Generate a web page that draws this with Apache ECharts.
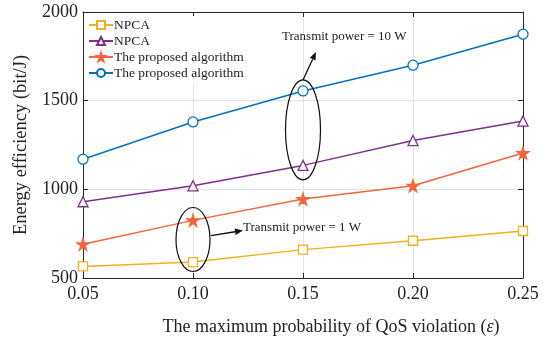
<!DOCTYPE html>
<html>
<head>
<meta charset="utf-8">
<script src="https://cdn.jsdelivr.net/npm/echarts@6/dist/echarts.min.js"></script>
<style>
  html, body { margin: 0; padding: 0; background: #fff; }
  #chart { width: 549px; height: 343px; }
</style>
</head>
<body>
<div id="chart"></div>
<script>
// QoS violation probability (x axis)
var epsilons = ['0.05', '0.10', '0.15', '0.20', '0.25'];
// energy efficiency (bit/J)
var npca1W = [565, 590, 660, 710, 765];
var npca10W = [930, 1020, 1135, 1275, 1385];
var proposed1W = [690, 825, 945, 1020, 1205];
var proposed10W = [1170, 1380, 1555, 1700, 1875];
var yTicks = [500, 1000, 1500, 2000];

var serif = 'Liberation Serif';
var starPath = 'path://M50,0 L61,35 L98,35 L68,57 L79,91 L50,70 L21,91 L32,57 L2,35 L39,35 Z';

var chart = echarts.init(document.getElementById('chart'));

function mkSeries(name, data, color, symbol, size) {
  return {
    name: name,
    type: 'line',
    data: data,
    symbol: symbol,
    symbolSize: size,
    showAllSymbol: true,
    lineStyle: { color: color, width: 1.5 },
    itemStyle: { color: symbol.indexOf('path') === 0 ? color : '#fff', borderColor: color, borderWidth: 1.3 },
    emphasis: { disabled: true },
    z: 3
  };
}

var axisCol = '#262626';
var option = {
  animation: false,
  backgroundColor: '#fff',
  textStyle: { fontFamily: serif },
  grid: { left: 83, right: 26, top: 12, bottom: 65 },
  legend: {
    orient: 'vertical',
    left: 86,
    top: 16,
    itemWidth: 24,
    itemHeight: 10,
    itemGap: 2,
    padding: [2, 4, 4, 2],
    backgroundColor: '#fff',
    textStyle: { fontFamily: serif, fontSize: 13.5, color: '#222', padding: [0, 0, 0, -4] },
    data: ['NPCA', 'NPCA\u200b', 'The proposed algorithm', 'The proposed algorithm\u200b']
  },
  xAxis: [{
    type: 'category',
    data: epsilons,
    boundaryGap: false,
    name: 'The maximum probability of QoS violation ({e|\u03b5})',
    nameLocation: 'middle',
    nameGap: 40,
    nameTextStyle: { fontFamily: serif, fontSize: 18, color: '#222', padding: [0, 0, 0, 56],
      rich: { e: { fontFamily: serif, fontSize: 18, fontStyle: 'italic', color: '#222' } } },
    axisLine: { lineStyle: { color: axisCol, width: 1 } },
    axisTick: { inside: true, length: 5, alignWithLabel: true, lineStyle: { color: axisCol } },
    axisLabel: { fontFamily: serif, fontSize: 18, color: '#222', margin: 7 },
    splitLine: { show: true, lineStyle: { color: '#e3e3e3', width: 1 } }
  }, {
    type: 'category',
    data: epsilons,
    boundaryGap: false,
    position: 'top',
    axisLine: { lineStyle: { color: axisCol, width: 1 } },
    axisTick: { inside: true, length: 5, lineStyle: { color: axisCol } },
    axisLabel: { show: false },
    splitLine: { show: false }
  }],
  yAxis: [{
    type: 'value',
    min: 500,
    max: 2000,
    interval: 500,
    name: 'Energy efficiency (bit/J)',
    nameLocation: 'middle',
    nameGap: 52,
    nameTextStyle: { fontFamily: serif, fontSize: 18.5, color: '#222' },
    axisLine: { show: true, lineStyle: { color: axisCol, width: 1 } },
    axisTick: { show: true, inside: true, length: 5, lineStyle: { color: axisCol } },
    axisLabel: { fontFamily: serif, fontSize: 18, color: '#222', margin: 5,
      formatter: function (v) { return yTicks.indexOf(v) >= 0 ? String(v) : ''; } },
    splitLine: { show: true, lineStyle: { color: '#e3e3e3', width: 1 } }
  }, {
    type: 'value',
    min: 500,
    max: 2000,
    interval: 500,
    position: 'right',
    axisLine: { show: true, lineStyle: { color: axisCol, width: 1 } },
    axisTick: { show: true, inside: true, length: 5, lineStyle: { color: axisCol } },
    axisLabel: { show: false },
    splitLine: { show: false }
  }],
  series: [
    mkSeries('NPCA', npca1W, '#EDB120', 'rect', 9),
    mkSeries('NPCA\u200b', npca10W, '#7E2F8E', 'triangle', 10),
    mkSeries('The proposed algorithm', proposed1W, '#F5643C', starPath, 12),
    mkSeries('The proposed algorithm\u200b', proposed10W, '#0072BD', 'circle', 10)
  ]
};
chart.setOption(option);

// annotations: ellipses around the point groups, arrows and labels
function px(i, v) { return chart.convertToPixel({ gridIndex: 0 }, [i, v]); }
var c1 = px(1, 717);
var c2 = px(2, 1335);
function arrow(x1, y1, x2, y2) {
  var a = Math.atan2(y2 - y1, x2 - x1), L = 8, W = 3.2;
  var bx = x2 - L * Math.cos(a), by = y2 - L * Math.sin(a);
  return [{
    type: 'line', shape: { x1: x1, y1: y1, x2: bx, y2: by },
    style: { stroke: '#111', lineWidth: 1.3 }, z: 10
  }, {
    type: 'polygon',
    shape: { points: [[x2, y2],
      [bx + W * Math.sin(a), by - W * Math.cos(a)],
      [bx - W * Math.sin(a), by + W * Math.cos(a)]] },
    style: { fill: '#111' }, z: 10
  }];
}
var g = [
  { type: 'ellipse', shape: { cx: c1[0], cy: c1[1], rx: 17, ry: 32 },
    style: { fill: null, stroke: '#111', lineWidth: 1.2 }, z: 10 },
  { type: 'ellipse', shape: { cx: c2[0], cy: c2[1], rx: 17.5, ry: 50 },
    style: { fill: null, stroke: '#111', lineWidth: 1.2 }, z: 10 },
  { type: 'text', left: c1[0] + 50, top: c1[1] - 18,
    style: { text: 'Transmit power = 1 W', font: '13px "Liberation Serif"', fill: '#222' }, z: 10 },
  { type: 'text', left: c2[0] - 21, top: c2[1] - 100,
    style: { text: 'Transmit power = 10 W', font: '13px "Liberation Serif"', fill: '#222' }, z: 10 }
];
g = g.concat(arrow(c1[0] + 18, c1[1] - 4, c1[0] + 50, c1[1] - 9));
g = g.concat(arrow(c2[0], c2[1] - 50, c2[0] + 13, c2[1] - 78));
chart.setOption({ graphic: g });
</script>
</body>
</html>
